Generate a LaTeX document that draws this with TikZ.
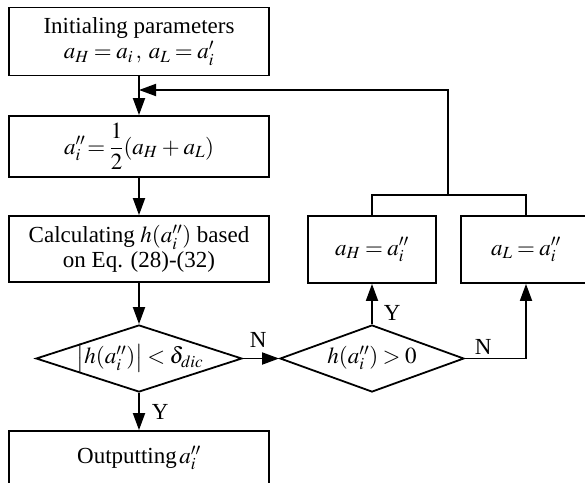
\documentclass[tikz,border=0pt]{standalone}
\usepackage{mathptmx}
\usepackage{fontspec}
\setmainfont{Liberation Serif}
\usetikzlibrary{arrows.meta,shapes.geometric}
\thickmuskip=3.5mu plus 2mu
\medmuskip=3mu plus 1mu
\begin{document}
\begin{tikzpicture}[x=1pt,y=-1pt,
  every node/.style={font=\fontsize{23}{25}\selectfont},
  box/.style={draw,line width=1.8pt,inner sep=0pt,align=center},
  dia/.style={draw,diamond,line width=1.8pt,inner sep=0pt},
  line/.style={line width=1.8pt},
  arr/.style={line width=1.8pt,-{Triangle[length=17pt,width=12pt]}},
  lbl/.style={inner sep=0pt}]
\useasboundingbox (0,0) rectangle (585,482);
\node[box,minimum width=260pt,minimum height=68pt] (b1) at (139,41.5)
  {Initialing parameters\\ $a_H = a_i\,,\; a_L = a_i'$};
\node[box,minimum width=260pt,minimum height=61pt] (b2) at (139,146.5)
  {$a_i''\!= \displaystyle\frac{1}{2}(a_H + a_L)$};
\node[box,minimum width=260pt,minimum height=66pt] (b3) at (139,249)
  {Calculating $h(a_i'')$ based\\ on Eq. (28)-(32)};
\node[dia,minimum width=206pt,minimum height=67pt] (d1) at (139,358.5) {};
\node[inner sep=0pt] (t1) at (140,358) {$\bigl|h(a_i'')\bigr| < \delta_{dic}$};
\node[dia,minimum width=184pt,minimum height=67pt] (d2) at (372,358.5) {};
\node[inner sep=0pt] (t2) at (372,358) {$h(a_i'') > 0$};
\node[box,minimum width=260pt,minimum height=54pt] (b4) at (139,458)
  {Outputting$\,a_i''$};
\node[box,minimum width=128pt,minimum height=67pt] (b5) at (372,249.5) {$a_H = a_i''$};
\node[box,minimum width=130pt,minimum height=67pt] (b6) at (526,249.5) {$a_L = a_i''$};
\coordinate (j) at (448,195);
\coordinate (f) at (448,90);
\coordinate (m) at (139,90);
\draw[arr] (b1) -- (b2);
\draw[arr] (b2) -- (b3);
\draw[arr] (b3) -- (d1.north);
\draw[arr] (d1.south) -- node[lbl,right=12pt,pos=0.5]{Y} (b4.north);
\draw[arr] (d1.east) -- node[lbl,above=10pt,pos=0.42]{N} (d2.west);
\draw[arr] (d2.north) -- node[lbl,right=11pt,pos=0.28]{Y} (b5.south);
\draw[arr] (d2.east) -| node[lbl,above=3pt,pos=0.15]{N} (b6.south);
\draw[line] (b5.north) |- (j) -| (b6.north);
\draw[arr] (j) -- (f) -- (m);
\end{tikzpicture}
\end{document}
